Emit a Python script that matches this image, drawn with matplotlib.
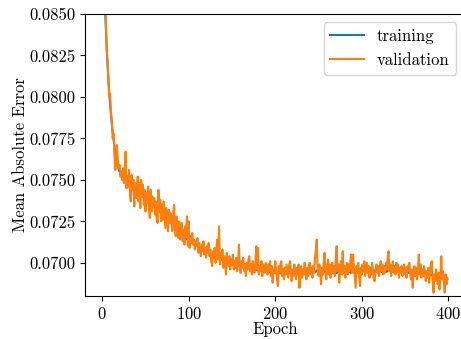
import matplotlib
matplotlib.use("Agg")
import matplotlib.pyplot as plt
from matplotlib.ticker import FormatStrFormatter, MultipleLocator

plt.rcParams['font.family'] = 'serif'
plt.rcParams['font.serif'] = ['cmr10', 'DejaVu Serif']
plt.rcParams['mathtext.fontset'] = 'cm'
plt.rcParams['axes.formatter.use_mathtext'] = True
plt.rcParams['font.size'] = 12

training = [
    0.0960, 0.0905, 0.0875, 0.0857, 0.0843, 0.0831, 0.0820, 0.0811, 0.0803, 0.0796,
    0.0790, 0.0784, 0.0779, 0.0775, 0.0771, 0.0765, 0.0762, 0.0760, 0.0758, 0.0756,
    0.07550, 0.07545, 0.07535, 0.07530, 0.07522, 0.07520, 0.07512, 0.07510, 0.07503, 0.07500,
    0.07495, 0.07488, 0.07485, 0.07478, 0.07472, 0.07470, 0.07462, 0.07458, 0.07452, 0.07448,
    0.07442, 0.07440, 0.07433, 0.07428, 0.07425, 0.07418, 0.07414, 0.07410, 0.07402, 0.07398,
    0.07392, 0.07388, 0.07382, 0.07380, 0.07372, 0.07368, 0.07362, 0.07360, 0.07352, 0.07348,
    0.07342, 0.07338, 0.07330, 0.07325, 0.07322, 0.07315, 0.07310, 0.07306, 0.07300, 0.07295,
    0.07292, 0.07285, 0.07282, 0.07278, 0.07272, 0.07268, 0.07262, 0.07258, 0.07252, 0.07248,
    0.07242, 0.07238, 0.07232, 0.07228, 0.07222, 0.07218, 0.07212, 0.07208, 0.07202, 0.07198,
    0.07178, 0.07172, 0.07170, 0.07165, 0.07160, 0.07155, 0.07152, 0.07146, 0.07142, 0.07138,
    0.07132, 0.07130, 0.07125, 0.07122, 0.07120, 0.07115, 0.07112, 0.07110, 0.07105, 0.07102,
    0.07100, 0.07098, 0.07092, 0.07090, 0.07088, 0.07082, 0.07080, 0.07078, 0.07072, 0.07070,
    0.07068, 0.07065, 0.07060, 0.07058, 0.07055, 0.07050, 0.07048, 0.07045, 0.07042, 0.07040,
    0.07038, 0.07035, 0.07032, 0.07030, 0.07028, 0.07025, 0.07022, 0.07020, 0.07020, 0.07018,
    0.07015, 0.07012, 0.07010, 0.07010, 0.07008, 0.07005, 0.07002, 0.07000, 0.07000, 0.06998,
    0.06995, 0.06995, 0.06992, 0.06990, 0.06990, 0.06988, 0.06985, 0.06985, 0.06982, 0.06980,
    0.06980, 0.06978, 0.06976, 0.06975, 0.06974, 0.06972, 0.06970, 0.06970, 0.06968, 0.06967,
    0.06966, 0.06965, 0.06963, 0.06962, 0.06962, 0.06960, 0.06958, 0.06958, 0.06956, 0.06955,
    0.06955, 0.06953, 0.06952, 0.06952, 0.06950, 0.06950, 0.06948, 0.06948, 0.06947, 0.06946,
    0.06946, 0.06945, 0.06944, 0.06944, 0.06943, 0.06943, 0.06942, 0.06942, 0.06941, 0.06941,
    0.06940, 0.06945, 0.06938, 0.06942, 0.06948, 0.06940, 0.06936, 0.06944, 0.06950, 0.06942,
    0.06938, 0.06945, 0.06940, 0.06935, 0.06942, 0.06948, 0.06940, 0.06938, 0.06944, 0.06940,
    0.06936, 0.06942, 0.06946, 0.06940, 0.06938, 0.06944, 0.06950, 0.06942, 0.06938, 0.06945,
    0.06940, 0.06936, 0.06942, 0.06948, 0.06944, 0.06938, 0.06942, 0.06946, 0.06940, 0.06944,
    0.06950, 0.06944, 0.06940, 0.06946, 0.06952, 0.06946, 0.06942, 0.06948, 0.06954, 0.06948,
    0.06944, 0.06950, 0.06946, 0.06942, 0.06948, 0.06944, 0.06940, 0.06946, 0.06950, 0.06944,
    0.06940, 0.06946, 0.06942, 0.06938, 0.06944, 0.06948, 0.06942, 0.06938, 0.06944, 0.06940,
    0.06936, 0.06942, 0.06946, 0.06940, 0.06944, 0.06950, 0.06944, 0.06940, 0.06946, 0.06942,
    0.06938, 0.06944, 0.06948, 0.06942, 0.06946, 0.06952, 0.06946, 0.06940, 0.06945, 0.06950,
    0.06946, 0.06942, 0.06948, 0.06952, 0.06946, 0.06942, 0.06948, 0.06954, 0.06950, 0.06946,
    0.06950, 0.06956, 0.06952, 0.06948, 0.06954, 0.06958, 0.06952, 0.06948, 0.06955, 0.06960,
    0.06954, 0.06950, 0.06946, 0.06952, 0.06956, 0.06950, 0.06946, 0.06952, 0.06948, 0.06944,
    0.06950, 0.06954, 0.06948, 0.06944, 0.06950, 0.06946, 0.06942, 0.06948, 0.06952, 0.06946,
    0.06950, 0.06956, 0.06960, 0.06954, 0.06950, 0.06956, 0.06958, 0.06952, 0.06948, 0.06954,
    0.06950, 0.06946, 0.06952, 0.06948, 0.06944, 0.06950, 0.06946, 0.06942, 0.06948, 0.06944,
    0.06940, 0.06946, 0.06950, 0.06944, 0.06940, 0.06946, 0.06942, 0.06938, 0.06944, 0.06948,
    0.06942, 0.06938, 0.06944, 0.06940, 0.06936, 0.06942, 0.06938, 0.06934, 0.06940, 0.06936,
    0.06932, 0.06938, 0.06934, 0.06930, 0.06936, 0.06932, 0.06928, 0.06934, 0.06930, 0.06926,
    0.06930, 0.06926, 0.06922, 0.06928, 0.06924, 0.06920, 0.06924, 0.06918, 0.06914, 0.06920,
    0.06916, 0.06912, 0.06908, 0.06914, 0.06910, 0.06906, 0.06900, 0.06906, 0.06902, 0.06898,
]

validation = [
    0.0958, 0.0902, 0.0871, 0.0856, 0.0849, 0.0830, 0.0822, 0.0812, 0.0800, 0.0802,
    0.0791, 0.0786, 0.0775, 0.0778, 0.0766, 0.0756, 0.0760, 0.0771, 0.0762, 0.0757,
    0.0759, 0.0752, 0.0755, 0.0750, 0.0757, 0.0748, 0.0753, 0.0767, 0.0745, 0.0752,
    0.0746, 0.0756, 0.0741, 0.0737, 0.0753, 0.0744, 0.0750, 0.0734, 0.0748, 0.0739,
    0.0745, 0.0752, 0.0737, 0.0748, 0.0733, 0.0750, 0.0740, 0.0747, 0.0735, 0.0744,
    0.0731, 0.0742, 0.0736, 0.0746, 0.0732, 0.0727, 0.0744, 0.0731, 0.0740, 0.0734,
    0.0739, 0.0729, 0.0737, 0.0727, 0.0724, 0.0744, 0.0731, 0.0738, 0.0725, 0.0735,
    0.0726, 0.0737, 0.0729, 0.0721, 0.0733, 0.0727, 0.0719, 0.0732, 0.0724, 0.0730,
    0.0726, 0.0719, 0.0729, 0.0735, 0.0721, 0.0716, 0.0728, 0.0720, 0.0715, 0.0725,
    0.0714, 0.0721, 0.0724, 0.0713, 0.0720, 0.0711, 0.0722, 0.0716, 0.0728, 0.0710,
    0.0725, 0.0709, 0.0716, 0.0712, 0.0718, 0.0711, 0.0714, 0.0708, 0.0713, 0.0710,
    0.0715, 0.0706, 0.0712, 0.0709, 0.0704, 0.0711, 0.0707, 0.0713, 0.0705, 0.0709,
    0.0703, 0.0710, 0.0706, 0.0712, 0.0704, 0.0708, 0.0701, 0.0698, 0.0707, 0.0703,
    0.0709, 0.0700, 0.0705, 0.0714, 0.0702, 0.0722, 0.0699, 0.0706, 0.0703, 0.0708,
    0.0697, 0.0704, 0.0700, 0.0693, 0.0706, 0.0701, 0.0698, 0.0704, 0.0696, 0.0702,
    0.0699, 0.0705, 0.0696, 0.0701, 0.0697, 0.0703, 0.0695, 0.0700, 0.0711, 0.0698,
    0.0694, 0.0701, 0.0697, 0.0703, 0.0695, 0.0699, 0.0692, 0.0700, 0.0696, 0.0702,
    0.0704, 0.0695, 0.0699, 0.0693, 0.0701, 0.0697, 0.0694, 0.0700, 0.0710, 0.0696,
    0.0709, 0.0693, 0.0698, 0.0695, 0.0701, 0.0692, 0.0699, 0.0696, 0.0694, 0.0700,
    0.0697, 0.0693, 0.0699, 0.0695, 0.0701, 0.0692, 0.0698, 0.0688, 0.0696, 0.0694,
    0.0701, 0.0695, 0.0691, 0.0686, 0.0698, 0.0694, 0.0699, 0.0701, 0.0692, 0.0696,
    0.0690, 0.0697, 0.0693, 0.0699, 0.0695, 0.0691, 0.0698, 0.0701, 0.0694, 0.0689,
    0.0696, 0.0692, 0.0699, 0.0694, 0.0690, 0.0697, 0.0693, 0.0699, 0.0685, 0.0695,
    0.0698, 0.0691, 0.0696, 0.0693, 0.0700, 0.0694, 0.0690, 0.0697, 0.0692, 0.0699,
    0.0700, 0.0693, 0.0697, 0.0691, 0.0698, 0.0694, 0.0703, 0.0708, 0.0714, 0.0696,
    0.0692, 0.0699, 0.0695, 0.0687, 0.0697, 0.0693, 0.0700, 0.0706, 0.0694, 0.0690,
    0.0697, 0.0702, 0.0693, 0.0699, 0.0691, 0.0696, 0.0700, 0.0694, 0.0698, 0.0692,
    0.0703, 0.0710, 0.0695, 0.0699, 0.0688, 0.0696, 0.0701, 0.0693, 0.0707, 0.0694,
    0.0698, 0.0691, 0.0697, 0.0700, 0.0693, 0.0699, 0.0695, 0.0702, 0.0705, 0.0694,
    0.0705, 0.0697, 0.0691, 0.0685, 0.0698, 0.0694, 0.0700, 0.0692, 0.0686, 0.0697,
    0.0693, 0.0699, 0.0695, 0.0701, 0.0692, 0.0696, 0.0700, 0.0694, 0.0698, 0.0691,
    0.0697, 0.0693, 0.0700, 0.0695, 0.0690, 0.0689, 0.0696, 0.0699, 0.0694, 0.0698,
    0.0692, 0.0697, 0.0701, 0.0695, 0.0699, 0.0693, 0.0698, 0.0694, 0.0700, 0.0696,
    0.0703, 0.0707, 0.0695, 0.0699, 0.0692, 0.0697, 0.0701, 0.0694, 0.0698, 0.0693,
    0.0700, 0.0695, 0.0699, 0.0691, 0.0697, 0.0694, 0.0698, 0.0692, 0.0696, 0.0699,
    0.0693, 0.0697, 0.0691, 0.0698, 0.0695, 0.0700, 0.0694, 0.0690, 0.0696, 0.0685,
    0.0694, 0.0698, 0.0692, 0.0697, 0.0690, 0.0695, 0.0705, 0.0693, 0.0699, 0.0691,
    0.0696, 0.0692, 0.0698, 0.0694, 0.0689, 0.0695, 0.0691, 0.0697, 0.0688, 0.0694,
    0.0699, 0.0701, 0.0690, 0.0682, 0.0693, 0.0689, 0.0696, 0.0691, 0.0687, 0.0694,
    0.0684, 0.0692, 0.0704, 0.0690, 0.0695, 0.0688, 0.0682, 0.0693, 0.0687, 0.0691,
]

epochs = list(range(len(training)))

fig = plt.figure(figsize=(4.61, 3.39), dpi=100)
ax = fig.add_axes([0.1844, 0.1268, 0.8234, 0.832])
ax.plot(epochs, training, color='tab:blue', lw=1.5, label='training')
ax.plot(epochs, validation, color='tab:orange', lw=1.5, label='validation')

ax.set_ylim(0.0680, 0.0850)
ax.yaxis.set_major_locator(MultipleLocator(0.0025))
ax.yaxis.set_major_formatter(FormatStrFormatter('%.4f'))
ax.xaxis.set_major_locator(MultipleLocator(100))
ax.set_xlabel('Epoch', labelpad=0)
ax.set_ylabel('Mean Absolute Error', labelpad=1)
ax.legend(loc='upper right')

fig.savefig('out.png', dpi=100)
